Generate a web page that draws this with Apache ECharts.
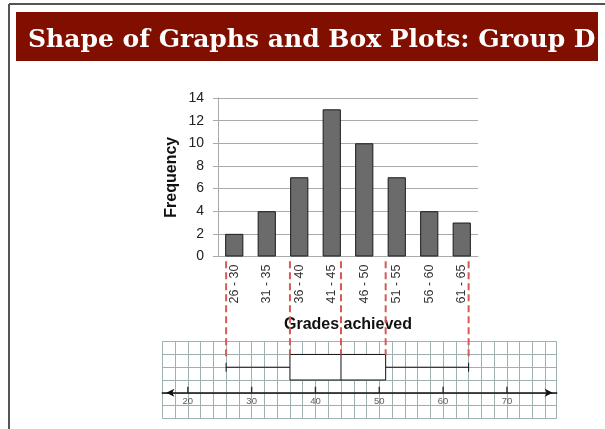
<!DOCTYPE html>
<html>
<head>
<meta charset="utf-8">
<title>Shape of Graphs and Box Plots: Group D</title>
<script src="https://cdn.jsdelivr.net/npm/echarts@6/dist/echarts.min.js"></script>
<style>
  html, body { margin: 0; padding: 0; background: #fff; }
  #chart { width: 605px; height: 429px; }
</style>
</head>
<body>
<div id="chart"></div>
<script>
// data
const categories = ['26 - 30', '31 - 35', '36 - 40', '41 - 45', '46 - 50', '51 - 55', '56 - 60', '61 - 65']
const frequencies = [2, 4, 7, 13, 10, 7, 4, 3]
// min, Q1, median, Q3, max
const boxStats = [26, 36, 44, 51, 64]
const numberLineTicks = [20, 30, 40, 50, 60, 70]

const chart = echarts.init(document.getElementById('chart'))

const sans = 'Liberation Sans, Arial, sans-serif'
const gridGray = '#9fb0b0'

const option = {
  animation: false,
  // page frame + title bar
  graphic: [
    { type: 'line', shape: { x1: 9, y1: 4, x2: 9, y2: 429 }, style: { stroke: '#555', lineWidth: 2 } },
    { type: 'line', shape: { x1: 9, y1: 4, x2: 605, y2: 4 }, style: { stroke: '#555', lineWidth: 2 } },
    { type: 'rect', shape: { x: 16, y: 12, width: 582, height: 49 }, style: { fill: '#800f00' } },
    {
      type: 'text', left: 28, top: 28,
      style: {
        text: 'Shape of Graphs and Box Plots: Group D',
        fill: '#fff',
        font: 'bold 25px "DejaVu Serif", serif'
      }
    }
  ],
  grid: [
    { left: 218, top: 98, width: 260, height: 158.5 },
    { left: 162.3, top: 341.7, width: 394.4, height: 76.6 }
  ],
  xAxis: [
    {
      type: 'category',
      gridIndex: 0,
      data: categories,
      name: 'Grades achieved',
      nameLocation: 'middle',
      nameGap: 60,
      nameTextStyle: { fontFamily: sans, fontWeight: 'bold', fontSize: 16, color: '#111' },
      axisLine: { lineStyle: { color: '#aaa', width: 1 } },
      axisTick: { length: 5, lineStyle: { color: '#aaa' } },
      axisLabel: { rotate: 90, margin: 8, padding: [6, 0, 0, 0], fontFamily: sans, fontSize: 12.5, color: '#333' }
    },
    {
      // the number line under the box plot
      type: 'value',
      gridIndex: 1,
      min: 16,
      max: 77.8,
      interval: 2,
      axisLine: {
        onZero: true,
        symbol: ['arrow', 'arrow'],
        symbolSize: [6, 8],
        symbolOffset: [4, -4],
        lineStyle: { color: '#111', width: 1.5 }
      },
      axisTick: { show: false },
      axisLabel: { show: false },
      splitLine: { show: true, lineStyle: { color: gridGray, width: 1 } }
    }
  ],
  yAxis: [
    {
      type: 'value',
      gridIndex: 0,
      min: 0,
      max: 14,
      interval: 2,
      name: 'Frequency',
      nameLocation: 'middle',
      nameGap: 38,
      nameTextStyle: { fontFamily: sans, fontWeight: 'bold', fontSize: 16, color: '#111' },
      axisLine: { show: true, lineStyle: { color: '#aaa', width: 1 } },
      axisTick: { show: true, length: 5, lineStyle: { color: '#aaa' } },
      axisLabel: { margin: 14, fontFamily: sans, fontSize: 14, color: '#222' },
      splitLine: { lineStyle: { color: '#aaa', width: 1 } }
    },
    {
      type: 'value',
      gridIndex: 1,
      min: -2,
      max: 4,
      interval: 1,
      axisLine: { show: false },
      axisTick: { show: false },
      axisLabel: { show: false },
      splitLine: { show: true, lineStyle: { color: gridGray, width: 1 } }
    }
  ],
  series: [
    {
      type: 'bar',
      xAxisIndex: 0,
      yAxisIndex: 0,
      data: frequencies,
      barWidth: '56%',
      itemStyle: { color: '#6b6b6b', borderColor: '#1a1a1a', borderWidth: 1 }
    },
    {
      // tick marks + labels on the number line
      type: 'scatter',
      xAxisIndex: 1,
      yAxisIndex: 1,
      data: numberLineTicks.map(v => [v, 0]),
      symbol: 'rect',
      symbolSize: [1.5, 6],
      symbolOffset: [0, -3],
      itemStyle: { color: '#111' },
      label: {
        show: true,
        position: 'bottom',
        distance: 4,
        fontFamily: sans,
        fontSize: 9.5,
        color: '#333',
        textBorderWidth: 0,
        formatter: p => String(p.value[0])
      },
      silent: true
    },
    {
      // box and whiskers
      type: 'custom',
      xAxisIndex: 1,
      yAxisIndex: 1,
      data: [boxStats],
      encode: { x: [0, 1, 2, 3, 4] },
      clip: false,
      z: 3,
      renderItem: function (params, api) {
        const yMid = api.coord([0, 2])[1]
        const yTop = api.coord([0, 3])[1]
        const yBot = api.coord([0, 1])[1]
        const x = [0, 1, 2, 3, 4].map(i => api.coord([api.value(i), 2])[0])
        const line = { stroke: '#111', lineWidth: 1 }
        return {
          type: 'group',
          children: [
            { type: 'line', shape: { x1: x[0], y1: yMid, x2: x[1], y2: yMid }, style: line },
            { type: 'line', shape: { x1: x[3], y1: yMid, x2: x[4], y2: yMid }, style: line },
            { type: 'line', shape: { x1: x[0], y1: yMid - 4.5, x2: x[0], y2: yMid + 4.5 }, style: line },
            { type: 'line', shape: { x1: x[4], y1: yMid - 4.5, x2: x[4], y2: yMid + 4.5 }, style: line },
            { type: 'rect', shape: { x: x[1], y: yTop, width: x[3] - x[1], height: yBot - yTop }, style: { fill: '#fff', stroke: '#111', lineWidth: 1 } },
            { type: 'line', shape: { x1: x[2], y1: yTop, x2: x[2], y2: yBot }, style: line }
          ]
        }
      }
    },
    {
      // red dashed guides from the histogram down to the box plot
      type: 'custom',
      xAxisIndex: 1,
      yAxisIndex: 1,
      data: boxStats.map(v => [v]),
      encode: { x: 0 },
      clip: false,
      z: 4,
      renderItem: function (params, api) {
        const v = api.value(0)
        const isEnd = params.dataIndex === 0 || params.dataIndex === boxStats.length - 1
        const top = api.coord([v, 10.3])
        const bottom = api.coord([v, isEnd ? 2.55 : 3])
        return {
          type: 'line',
          shape: { x1: top[0], y1: top[1], x2: bottom[0], y2: bottom[1] },
          style: { stroke: '#d65a55', lineWidth: 2, lineDash: [7, 4] }
        }
      }
    }
  ]
}

chart.setOption(option)
</script>
</body>
</html>
